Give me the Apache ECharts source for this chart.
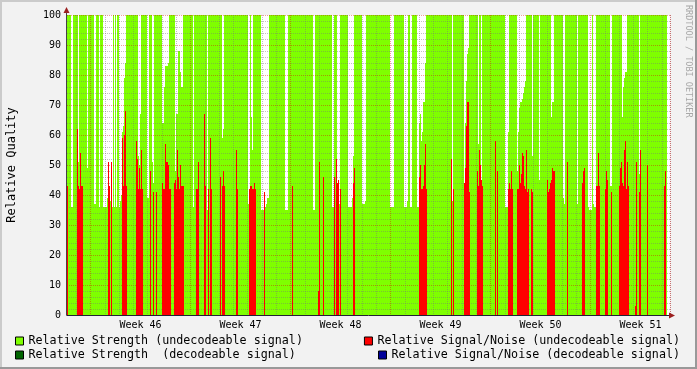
<!DOCTYPE html>
<html><head><meta charset="utf-8">
<script src="https://cdn.jsdelivr.net/npm/echarts@6/dist/echarts.min.js"></script>
<style>html,body{margin:0;padding:0;background:#f2f2f2;}#c{width:697px;height:369px;}</style>
</head><body><div id="c"></div>
<script>
// ---- data ----
const weekLabels = ['Week 46','Week 47','Week 48','Week 49','Week 50','Week 51'];
const hoursPerColumn = 1.68;      // one sample column = 1.68 h
const firstColumnHour = -39.2;    // hours from start of week 46 to first sample
const columnCount = 603;          // time slots on the axis (last ones have no data yet)
const yMin = 0, yMax = 100, yStep = 10;

const strengthUndecodeable = [
100,100,100,100,36,36,100,100,100,100,100,51,100,100,100,100,100,100,100,100,
49,100,100,100,100,100,100,37,37,100,100,100,36,100,100,100,36,36,36,36,
39,36,38,38,38,36,100,36,100,36,100,100,36,38,40,61,63,79,84,100,
100,100,100,100,100,100,100,100,100,100,100,53,50,67,100,100,100,100,100,100,
39,39,100,100,100,51,44,100,100,100,100,100,100,100,100,64,64,76,83,83,
83,84,100,100,100,100,100,100,48,67,67,88,88,81,76,76,100,100,100,100,
100,100,100,100,100,100,36,100,100,100,100,100,100,100,100,100,100,100,100,100,
35,100,100,100,100,100,100,100,100,100,100,100,100,100,100,59,62,100,100,100,
100,100,100,100,100,100,100,100,100,100,100,100,100,100,100,100,100,100,100,100,
100,37,37,100,66,55,100,100,100,100,100,100,100,100,35,35,35,34,36,37,
39,39,100,100,100,100,100,100,100,100,100,100,100,100,100,100,100,100,35,35,
35,100,100,100,100,100,100,100,100,100,100,100,100,100,100,100,100,100,100,100,
100,100,100,100,100,100,35,35,100,100,100,100,100,100,100,100,100,100,100,100,
100,100,100,100,100,36,36,100,100,100,37,37,37,100,100,100,100,100,100,100,
100,36,36,36,36,39,53,100,100,100,100,100,100,100,100,37,37,37,38,100,
100,100,100,100,100,100,100,100,100,100,100,100,100,100,100,100,100,100,100,100,
100,100,100,36,36,36,36,100,100,100,100,100,100,100,100,100,100,36,36,36,
38,100,100,36,36,100,100,100,100,100,36,36,64,67,58,61,71,71,84,100,
100,100,100,100,100,100,100,100,100,100,100,100,100,100,100,100,100,100,100,100,
100,100,100,100,100,38,100,100,100,100,100,100,100,100,100,100,100,44,64,78,
87,89,100,100,100,100,100,100,100,100,100,57,100,100,45,100,100,100,100,100,
100,100,100,100,100,100,100,100,100,100,100,100,100,100,100,100,100,100,36,36,
36,61,100,100,100,100,100,100,100,100,48,61,69,71,71,72,74,76,78,100,
100,100,100,100,100,53,100,100,100,100,100,100,45,100,100,100,100,100,100,100,
100,100,100,100,66,71,71,100,100,100,100,100,100,100,100,100,39,37,100,100,
100,100,100,100,100,100,100,100,100,100,37,100,100,100,100,100,100,100,100,100,
100,36,35,35,35,100,37,36,36,100,100,100,100,100,100,100,100,100,100,100,
100,100,100,43,43,100,100,100,100,100,100,100,100,100,100,66,76,79,81,81,
100,100,100,100,100,100,100,100,100,100,100,100,47,100,100,100,100,100,100,100,
100,100,100,100,100,100,100,100,100,100,100,100,100,100,100,100,100,100,100,100
];

const snrUndecodeable = [
43,0,0,0,0,0,0,0,0,0,62,43,42,54,43,43,0,0,0,0,
0,0,0,0,0,0,0,0,0,0,0,0,0,0,0,0,0,0,0,0,
0,51,43,0,51,0,0,0,0,0,0,0,0,0,0,59,43,60,68,43,
0,0,0,0,0,0,0,0,0,58,52,42,49,42,55,42,0,0,0,0,
0,0,0,48,0,0,41,0,0,41,0,0,0,0,0,44,42,42,57,51,
51,50,42,42,0,0,0,44,45,42,55,46,42,50,43,43,43,0,0,0,
0,0,0,0,0,0,0,0,0,42,42,51,0,0,0,0,0,67,43,0,
0,42,0,59,42,0,0,0,0,0,0,0,0,46,0,43,48,43,0,0,
0,0,0,0,0,0,0,0,0,55,42,0,0,0,0,0,0,0,0,0,
0,0,42,43,43,42,42,44,42,0,0,0,0,0,0,0,0,41,0,0,
0,0,0,0,0,0,0,0,0,0,0,0,0,0,0,0,0,0,0,0,
0,0,0,0,0,43,0,0,0,0,0,0,0,0,0,0,0,0,0,0,
0,0,0,0,0,0,0,0,0,0,0,8,51,0,0,0,46,0,0,0,
0,0,0,0,0,0,0,46,0,52,44,45,0,42,0,0,0,0,0,0,
0,0,0,0,0,0,44,49,0,0,0,0,0,0,0,0,0,0,0,0,
0,0,0,0,0,0,0,0,0,0,0,0,0,0,0,0,0,0,0,0,
0,0,0,0,0,0,0,0,0,0,0,0,0,0,0,0,0,0,0,0,
0,0,0,0,0,0,0,0,0,0,0,0,46,50,42,42,43,50,57,42,
0,0,0,0,0,0,0,0,0,0,0,0,0,0,0,0,0,0,0,0,
0,0,0,0,52,0,42,0,0,0,0,0,0,0,0,0,0,44,49,63,
71,71,41,0,0,0,0,0,0,0,48,43,55,50,45,43,0,0,0,0,
0,0,0,0,0,0,0,0,58,0,48,0,0,0,0,0,0,0,0,0,
0,42,44,42,48,42,0,0,0,0,42,42,50,44,47,54,53,43,42,55,
41,42,0,0,42,41,0,0,0,0,0,0,0,0,0,0,0,0,0,0,
45,41,42,44,45,49,48,48,0,0,0,0,0,0,0,0,0,0,0,0,
51,0,0,0,0,0,0,0,0,0,0,0,0,0,0,44,48,49,0,0,
0,0,0,0,0,0,0,0,0,43,43,54,43,0,0,0,0,0,42,48,
45,0,0,0,41,0,0,0,0,0,0,0,43,49,51,44,43,55,58,42,
51,43,0,0,0,0,0,0,3,51,0,0,41,55,0,0,0,0,0,0,
50,0,0,0,0,0,0,0,0,0,0,0,0,0,0,0,0,43,48,0
];

const strengthDecodeable = [];
const snrDecodeable = [];

const seriesNames = [
  'Relative Strength (undecodeable signal)',
  'Relative Signal/Noise (undecodeable signal)',
  'Relative Strength  (decodeable signal)',
  'Relative Signal/Noise (decodeable signal)'
];

// ---- time grid helpers ----
const categories = Array.from({length: columnCount}, (_, i) => String(i));
const dayLines = new Set(), weekLines = new Set(), weekLabelAt = {};
for (let d = -3; d <= 45; d++) {
  const idx = Math.round((d * 24 - firstColumnHour) / hoursPerColumn);
  if (idx <= 0 || idx >= columnCount) continue;
  if (d % 7 === 0) weekLines.add(idx); else dayLines.add(idx);
}
weekLabels.forEach((w, k) => {
  weekLabelAt[Math.round((k * 168 + 84 - firstColumnHour) / hoursPerColumn)] = w;
});

const MONO = 'DejaVu Sans Mono';
const chart = echarts.init(document.getElementById('c'), null, {renderer: 'canvas'});

const legendBase = {
  orient: 'horizontal', padding: 0, itemWidth: 8, itemHeight: 8, icon: 'rect',
  selectedMode: false, itemGap: 0,
  itemStyle: {borderColor: '#000', borderWidth: 1},
  textStyle: {fontFamily: MONO, fontSize: 11.7, color: '#000', lineHeight: 12}
};

chart.setOption({
  animation: false,
  backgroundColor: '#f2f2f2',
  grid: {left: 67, top: 15, width: 603, height: 300, show: true, backgroundColor: '#fff',
         borderWidth: 0, containLabel: false, outerBoundsMode: 'none'},
  legend: [
    Object.assign({}, legendBase, {data: [seriesNames[0]], left: 15, top: 335}),
    Object.assign({}, legendBase, {data: [seriesNames[2]], left: 15, top: 349}),
    Object.assign({}, legendBase, {data: [seriesNames[1]], right: 17, top: 335}),
    Object.assign({}, legendBase, {data: [seriesNames[3]], right: 17, top: 349})
  ],
  xAxis: [
    {
      type: 'category', data: categories, boundaryGap: true, position: 'bottom', z: 2,
      axisLine: {show: true, lineStyle: {color: '#222233', width: 1}},
      axisTick: {show: false},
      axisLabel: {
        interval: (i) => weekLabelAt[i] !== undefined,
        formatter: (v, i) => weekLabelAt[i] || '',
        fontFamily: MONO, fontSize: 10, color: '#000', margin: 5
      },
      splitLine: {show: true, interval: (i) => dayLines.has(i),
        lineStyle: {color: 'rgba(120,120,120,0.45)', type: [1, 1], width: 1}}
    },
    {
      type: 'category', data: categories, boundaryGap: true, position: 'bottom', z: 2,
      axisLine: {show: false}, axisTick: {show: false}, axisLabel: {show: false},
      splitLine: {show: true, interval: (i) => weekLines.has(i),
        lineStyle: {color: 'rgba(220,0,0,0.4)', type: [1, 1], width: 1}}
    }
  ],
  yAxis: {
    type: 'value', min: yMin, max: yMax, interval: yStep, offset: 1, z: 2,
    name: 'Relative Quality', nameLocation: 'middle', nameGap: 48,
    nameTextStyle: {fontFamily: MONO, fontSize: 12, color: '#000'},
    axisLine: {show: true, lineStyle: {color: '#444', width: 1}},
    axisTick: {show: false},
    axisLabel: {fontFamily: MONO, fontSize: 10, color: '#000', margin: 5},
    splitLine: {show: true, lineStyle: {color: 'rgba(220,0,0,0.4)', type: [1, 1], width: 1}},
    minorTick: {show: false, splitNumber: 5},
    minorSplitLine: {show: true, lineStyle: {color: 'rgba(120,120,120,0.45)', type: [1, 1], width: 1}}
  },
  series: [
    {name: seriesNames[0], type: 'bar', data: strengthUndecodeable, barWidth: 1, barGap: '-100%',
     barCategoryGap: 0, z: 1, itemStyle: {color: '#7fff00'}, xAxisIndex: 0},
    {name: seriesNames[1], type: 'bar', data: snrUndecodeable, barWidth: 1, barGap: '-100%',
     barCategoryGap: 0, z: 3, itemStyle: {color: '#ff0000'}, xAxisIndex: 0},
    {name: seriesNames[2], type: 'bar', data: strengthDecodeable, barWidth: 1, barGap: '-100%',
     barCategoryGap: 0, z: 3, itemStyle: {color: '#006400'}, xAxisIndex: 0},
    {name: seriesNames[3], type: 'bar', data: snrDecodeable, barWidth: 1, barGap: '-100%',
     barCategoryGap: 0, z: 3, itemStyle: {color: '#000099'}, xAxisIndex: 0}
  ],
  graphic: [
    {type: 'rect', shape: {x: 0, y: 0, width: 697, height: 2}, style: {fill: '#cbcbcb'}, z: 20, silent: true},
    {type: 'rect', shape: {x: 0, y: 0, width: 2, height: 369}, style: {fill: '#cbcbcb'}, z: 20, silent: true},
    {type: 'rect', shape: {x: 0, y: 367, width: 697, height: 2}, style: {fill: '#999'}, z: 20, silent: true},
    {type: 'rect', shape: {x: 695, y: 0, width: 2, height: 369}, style: {fill: '#999'}, z: 20, silent: true},
    {type: 'line', shape: {x1: 66.5, y1: 15, x2: 66.5, y2: 12}, style: {stroke: '#444', lineWidth: 1}, z: 20},
    {type: 'polygon', shape: {points: [[63.5, 13], [69.5, 13], [66.5, 7]]}, style: {fill: '#9b2020'}, z: 20},
    {type: 'line', shape: {x1: 670, y1: 315.5, x2: 672, y2: 315.5}, style: {stroke: '#222233', lineWidth: 1}, z: 20},
    {type: 'polygon', shape: {points: [[669, 312.5], [669, 318.5], [675, 315.5]]}, style: {fill: '#9b2020'}, z: 20},
    {type: 'text', x: 688, y: 5, rotation: -Math.PI / 2, z: 20, silent: true,
     style: {text: 'RRDTOOL / TOBI OETIKER', fontFamily: MONO, fontSize: 8.5, fill: '#a8a8a8',
             textAlign: 'left', textVerticalAlign: 'middle'}}
  ]
});
</script>
</body></html>
